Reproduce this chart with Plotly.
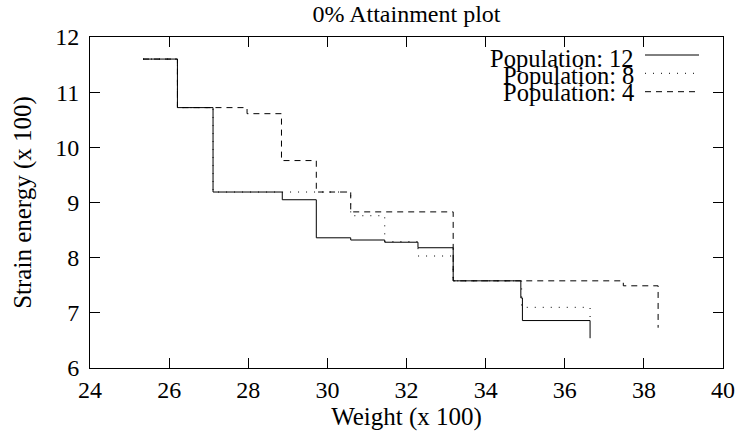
import plotly.graph_objects as go

# Data (x in Weight x100, y in Strain energy x100), step curves
pop12_x = [25.34, 26.21, 27.11, 28.86, 29.72, 30.59, 31.45, 32.29, 33.18, 34.89, 34.93, 36.64]
pop12_y = [11.60, 10.72, 9.19, 9.05, 8.36, 8.32, 8.28, 8.18, 7.58, 7.27, 6.86, 6.54]

pop8_x = [25.34, 26.21, 27.11, 30.59, 31.45, 32.29, 33.18, 34.91, 36.64]
pop8_y = [11.60, 10.72, 9.19, 8.76, 8.29, 8.03, 7.58, 7.10, 6.90]

pop4_x = [25.34, 26.21, 27.97, 28.84, 29.72, 30.59, 33.18, 37.48, 38.36]
pop4_y = [11.60, 10.72, 10.61, 9.76, 9.19, 8.83, 7.58, 7.49, 6.73]

series_names = ["Population: 12", "Population: 8", "Population: 4"]
x_ticks = [24, 26, 28, 30, 32, 34, 36, 38, 40]
y_ticks = [6, 7, 8, 9, 10, 11, 12]

FONT = "Liberation Serif, Times New Roman, Times, serif"
styles = {"Population: 12": "solid", "Population: 8": "1px,7px", "Population: 4": "6px,5px"}

fig = go.Figure()
data = [("Population: 4", pop4_x, pop4_y),
        ("Population: 8", pop8_x, pop8_y),
        ("Population: 12", pop12_x, pop12_y)]
for name, xs, ys in data:
    fig.add_trace(go.Scatter(x=xs, y=ys, mode="lines", name=name, line_shape="hv",
                             line=dict(color="black", width=1, dash=styles[name]),
                             showlegend=False, hoverinfo="x+y+name"))

# custom legend (gnuplot style: text right-aligned, sample on the right)
L, R, T, B = 90, 15, 37, 68
W, H = 738, 436
pw, ph = W - L - R, H - T - B
def px(x):
    return (x - L) / pw
def py(y):
    return (H - B - y) / ph
text_rows = [58, 75.3, 92.8]
line_rows = [55, 73.3, 91.7]
for name, ty, ly in zip(series_names, text_rows, line_rows):
    fig.add_annotation(text=name, xref="paper", yref="paper", x=px(635), y=py(ty),
                       xanchor="right", yanchor="middle", showarrow=False, borderpad=0,
                       font=dict(family=FONT, size=24.5, color="black"))
    fig.add_shape(type="line", xref="paper", yref="paper", x0=px(645), x1=px(699),
                  y0=py(ly), y1=py(ly), line=dict(color="black", width=1, dash=styles[name]))

axis_common = dict(showline=True, linecolor="black", linewidth=1, mirror="ticks",
                   ticks="inside", ticklen=10, tickcolor="black", tickwidth=1,
                   showgrid=False, zeroline=False, automargin=False,
                   tickfont=dict(family=FONT, size=24, color="black"))
fig.update_layout(
    width=W, height=H,
    margin=dict(l=L, r=R, t=T, b=B, autoexpand=False),
    paper_bgcolor="white", plot_bgcolor="white",
    font=dict(family=FONT, color="black"),
    title=dict(text="0% Attainment plot", x=0.5, xref="paper", y=1 - 14 / H, yanchor="middle",
               font=dict(family=FONT, size=24, color="black"), automargin=False),
    xaxis=dict(range=[24, 40], tickvals=x_ticks, ticktext=[str(v) for v in x_ticks],
               title=dict(text="Weight (x 100)", font=dict(family=FONT, size=25, color="black"), standoff=2),
               **axis_common),
    yaxis=dict(range=[6, 12], tickvals=y_ticks, ticktext=[str(v) for v in y_ticks],
               ticklabelstandoff=5,
               title=dict(text="Strain energy (x 100)", font=dict(family=FONT, size=25, color="black"), standoff=16),
               **axis_common),
)
fig.write_html("out.html", config={"displayModeBar": False},
               post_script="document.body.style.margin='0';document.body.style.overflow='hidden';")
